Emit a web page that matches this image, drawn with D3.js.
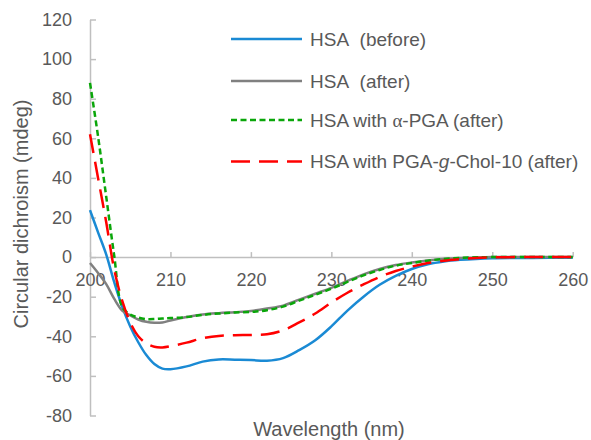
<!DOCTYPE html>
<html>
<head>
<meta charset="utf-8">
<script src="https://cdn.jsdelivr.net/npm/d3@7"></script>
<style>
  body { margin: 0; background: #fff; }
  svg { display: block; font-family: "Liberation Sans", Arial, sans-serif; }
</style>
</head>
<body>
<svg id="chart" width="591" height="440"></svg>
<script>
// wavelengths (nm) shared by every series
const wavelengths = [200, 201, 202, 203, 204, 205, 206, 207, 208, 209, 210, 212, 214, 216, 218, 220, 222, 224, 226, 228, 230, 232, 234, 236, 238, 240, 242, 244, 246, 248, 250, 255, 260];

// circular dichroism (mdeg)
const hsaBefore = [23.7, 12.5, 1.5, -12.5, -25, -35, -43, -49.5, -54, -56.3, -56.6, -55.2, -52.8, -51.7, -51.8, -52, -52.3, -51, -47, -42, -35, -27, -20, -14, -9.5, -6, -3.6, -2.2, -1.4, -0.9, -0.6, -0.4, -0.3];
const hsaAfter = [-3, -8, -13.5, -21, -27, -29.5, -31.5, -32.7, -33.2, -33, -32, -30.3, -29, -28.3, -27.8, -27.2, -26, -24.5, -21.5, -18.5, -15.5, -12, -8.7, -6, -4, -2.7, -1.7, -1, -0.5, -0.2, 0, 0, 0];
const hsaPga = [88, 61, 31, 1, -25, -29, -30.5, -31.3, -31.3, -31, -30.8, -30.3, -29.2, -28.5, -28, -27.7, -26.8, -25, -22, -19, -16, -12.5, -9.2, -6.5, -4.3, -3, -1.8, -0.9, -0.4, -0.1, 0, 0, 0];
const hsaChol = [62, 40, 18, -6, -22, -33, -40, -43.5, -45.3, -45.6, -45, -43.2, -41, -39.8, -39.5, -39.3, -39, -37, -33, -28.5, -23, -18, -13.8, -10, -7, -4.8, -3, -1.8, -1, -0.4, -0.1, 0, 0];

const xTicks = [200, 210, 220, 230, 240, 250, 260];
const yTicks = [-80, -60, -40, -20, 0, 20, 40, 60, 80, 100, 120];

const series = [
  { values: hsaBefore, color: "#1a8ad4", dash: null },
  { values: hsaAfter, color: "#808080", dash: null },
  { values: hsaPga, color: "#0aa60a", dash: "6,3.5" },
  { values: hsaChol, color: "#ff0000", dash: "19,9" },
];

const svg = d3.select("#chart");
const textColor = "#595959";
const axisColor = "#bfbfbf";

const x = d3.scaleLinear().domain([200, 260]).range([90, 572.7]);
const y = d3.scaleLinear().domain([-80, 120]).range([415.5, 19.5]);

// y axis, ticks pointing inward
const yAxis = svg.append("g")
  .attr("transform", `translate(${x(200)},0)`)
  .call(d3.axisLeft(y).tickValues(yTicks).tickFormat((d) => String(d))
    .tickSizeInner(-6).tickSizeOuter(0).tickPadding(18));

// x axis sits on the zero line, ticks pointing up
const xAxis = svg.append("g")
  .attr("transform", `translate(0,${y(0)})`)
  .call(d3.axisBottom(x).tickValues(xTicks).tickFormat((d) => String(d))
    .tickSizeInner(-5).tickSizeOuter(0).tickPadding(16));

[yAxis, xAxis].forEach((g) => {
  g.select(".domain").attr("stroke", axisColor).attr("stroke-width", 1.5);
  g.selectAll(".tick line").attr("stroke", axisColor).attr("stroke-width", 1.5);
  g.selectAll(".tick text").attr("fill", textColor).style("font-size", "18px");
});

const line = d3.line()
  .x((d) => x(d[0]))
  .y((d) => y(d[1]))
  .curve(d3.curveCatmullRom.alpha(0.5));

series.forEach((s) => {
  svg.append("path")
    .datum(wavelengths.map((w, i) => [w, s.values[i]]))
    .attr("fill", "none")
    .attr("stroke", s.color)
    .attr("stroke-width", 2.5)
    .attr("stroke-dasharray", s.dash)
    .attr("d", line);
});

// axis titles
svg.append("text")
  .attr("x", 329)
  .attr("y", 436)
  .attr("text-anchor", "middle")
  .attr("fill", textColor)
  .style("font-size", "20px")
  .text("Wavelength (nm)");

svg.append("text")
  .attr("transform", "translate(28,214) rotate(-90)")
  .attr("text-anchor", "middle")
  .attr("fill", textColor)
  .style("font-size", "20px")
  .text("Circular dichroism (mdeg)");

// legend
const legendY = [39, 81, 120, 161.5];
const legend = svg.append("g");

series.forEach((s, i) => {
  legend.append("line")
    .attr("x1", 231).attr("x2", 302)
    .attr("y1", legendY[i]).attr("y2", legendY[i])
    .attr("stroke", s.color)
    .attr("stroke-width", 2.5)
    .attr("stroke-dasharray", s.dash);
});

function legendText(i) {
  return legend.append("text")
    .attr("x", 310)
    .attr("y", legendY[i])
    .attr("dy", "0.35em")
    .attr("fill", textColor)
    .style("font-size", "19px");
}

legendText(0).text("HSA\u00a0 (before)");
legendText(1).text("HSA\u00a0 (after)");

const t2 = legendText(2);
t2.append("tspan").text("HSA with ");
t2.append("tspan").style("font-family", "'Liberation Serif', serif").text("\u03b1");
t2.append("tspan").text("-PGA (after)");

const t3 = legendText(3);
t3.append("tspan").text("HSA with PGA-");
t3.append("tspan").style("font-style", "italic").text("g");
t3.append("tspan").text("-Chol-10 (after)");
</script>
</body>
</html>
